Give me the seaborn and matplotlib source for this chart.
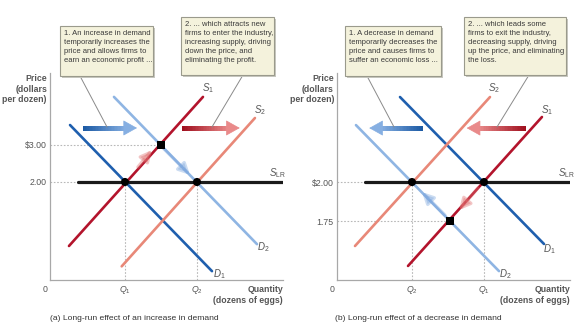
import numpy as np
import pandas as pd
import matplotlib
matplotlib.use("Agg")
import matplotlib.pyplot as plt
import seaborn as sns
from matplotlib.collections import LineCollection
from matplotlib.patches import Rectangle
import matplotlib.colors as mcolors

# ---------------- data ----------------
# panel (a): increase in demand
a_D1_q = [2.67, 21.6];  a_D1_p = [3.54, -0.41]
a_D2_q = [8.53, 27.6];  a_D2_p = [4.30, 0.32]
a_S1_q = [2.53, 20.4];  a_S1_p = [0.27, 4.30]
a_S2_q = [9.56, 27.33]; a_S2_p = [-0.28, 3.73]
a_SLR_q = [3.73, 31.07]; a_SLR_p = [2.00, 2.00]
a_eq_q = [10.0, 19.6];  a_eq_p = [2.00, 2.00]
a_sr_q = [14.8];        a_sr_p = [3.00]
a_yticks = [2.00, 3.00]; a_yticklabels = ["2.00", "\\$3.00"]
a_xticks = [10.0, 19.6]; a_xticklabels = [r"$Q_1$", r"$Q_2$"]

# panel (b): decrease in demand
b_D1_q = [8.4, 27.6];   b_D1_p = [2.545, 1.603]
b_D2_q = [2.53, 21.6];  b_D2_p = [2.365, 1.429]
b_S1_q = [9.47, 27.33]; b_S1_p = [1.462, 2.417]
b_S2_q = [2.4, 20.4];   b_S2_p = [1.59, 2.545]
b_SLR_q = [3.73, 31.07]; b_SLR_p = [2.00, 2.00]
b_eq_q = [10.0, 19.6];  b_eq_p = [2.00, 2.00]
b_sr_q = [15.07];       b_sr_p = [1.75]
b_yticks = [1.75, 2.00]; b_yticklabels = ["1.75", "\\$2.00"]
b_xticks = [10.0, 19.6]; b_xticklabels = [r"$Q_2$", r"$Q_1$"]

a_xlim = (0, 31.07); a_ylim = (-0.649, 4.946)
b_xlim = (0, 31.07); b_ylim = (1.372, 2.699)

# ---------------- style ----------------
sns.set_theme(style="white")
plt.rcParams["font.family"] = ["Liberation Sans", "DejaVu Sans"]
plt.rcParams["mathtext.fontset"] = "custom"
plt.rcParams["mathtext.it"] = "Liberation Sans:italic"
plt.rcParams["mathtext.rm"] = "Liberation Sans"

C_D1 = "#1f5fae"
C_D2 = "#8fb5e3"
C_S1 = "#b3142c"
C_S2 = "#e88878"
C_SLR = "#1a1a1a"
C_TXT = "#555555"
C_GRID = "#b8b8b8"

W, H = 584, 334
fig = plt.figure(figsize=(W / 100, H / 100), dpi=100)

def fx(px):
    return px / W

def fy(py):
    return 1 - py / H

axA = fig.add_axes([fx(50), fy(280), fx(233), 207 / H])
axB = fig.add_axes([fx(337), fy(280), fx(233), 207 / H])


def curve(ax, q, p, color, lw=1.9):
    df = pd.DataFrame({"Q": q, "P": p})
    sns.lineplot(data=df, x="Q", y="P", ax=ax, color=color, linewidth=lw,
                 sort=False, estimator=None, legend=False)


def grad_arrow(ax, x0, x1, y, c0, c1, head_len):
    n = 30
    sgn = 1 if x1 > x0 else -1
    xb = x1 - sgn * head_len
    xs = np.linspace(x0, xb, n + 1)
    segs = [[(xs[i], y), (xs[min(i + 2, n)], y)] for i in range(n)]
    cmap = mcolors.LinearSegmentedColormap.from_list("g", [c0, c1])
    cols = [cmap(i / (n - 1)) for i in range(n)]
    lc = LineCollection(segs, colors=cols, linewidths=3.6, capstyle="butt",
                        antialiaseds=False, zorder=4)
    ax.add_collection(lc)
    ax.annotate("", xy=(x1, y), xytext=(xb, y),
                arrowprops=dict(arrowstyle="-|>,head_length=0.75,head_width=0.42",
                                color=c1, lw=0.5, shrinkA=0, shrinkB=0), zorder=5)


def faint_arrow(ax, xy0, xy1, color):
    ax.annotate("", xy=xy1, xytext=xy0,
                arrowprops=dict(arrowstyle="-|>,head_length=0.55,head_width=0.28",
                                color=color, lw=2.4, alpha=0.4, shrinkA=0, shrinkB=0),
                zorder=2)


def setup(ax, xlim, ylim, xt, xtl, yt, ytl):
    ax.set_xlim(*xlim)
    ax.set_ylim(*ylim)
    for s in ["top", "right"]:
        ax.spines[s].set_visible(False)
    for s in ["left", "bottom"]:
        ax.spines[s].set_color("#a8a8a8")
        ax.spines[s].set_linewidth(0.9)
    ax.set_xticks(xt)
    ax.set_xticklabels(xtl)
    ax.set_yticks(yt)
    ax.set_yticklabels(ytl)
    ax.tick_params(length=0, labelsize=6.3, colors=C_TXT, pad=3)
    ax.tick_params(axis="y", pad=2.5)
    ax.set_xlabel("")
    ax.set_ylabel("")
    ax.patch.set_alpha(0)


# ---------------- panel (a) ----------------
ax = axA
ax.plot([0, a_sr_q[0]], [a_sr_p[0]] * 2, ls=(0, (1.5, 1.5)), color=C_GRID, lw=0.8, zorder=1)
ax.plot([0, a_SLR_q[0]], [a_eq_p[0]] * 2, ls=(0, (1.5, 1.5)), color=C_GRID, lw=0.8, zorder=1)
for q, p in zip(a_eq_q, a_eq_p):
    ax.plot([q, q], [a_ylim[0], p], ls=(0, (1.5, 1.5)), color=C_GRID, lw=0.8, zorder=1)
curve(ax, a_SLR_q, a_SLR_p, C_SLR, lw=2.3)
curve(ax, a_D1_q, a_D1_p, C_D1)
curve(ax, a_D2_q, a_D2_p, C_D2)
curve(ax, a_S2_q, a_S2_p, C_S2)
curve(ax, a_S1_q, a_S1_p, C_S1)
faint_arrow(ax, (15.07, 2.92), (18.67, 2.19), "#7fa8de")
faint_arrow(ax, (11.73, 2.405), (13.6, 2.865), "#e07070")
sns.scatterplot(x=a_eq_q, y=a_eq_p, ax=ax, color="black", s=34, marker="o", edgecolor="none", zorder=6)
sns.scatterplot(x=a_sr_q, y=a_sr_p, ax=ax, color="black", s=28, marker="s", edgecolor="none", zorder=6)
grad_arrow(ax, 4.4, 11.6, 3.46, "#1c5aa4", "#86afe2", 1.35)
grad_arrow(ax, 17.6, 25.3, 3.46, "#a0101f", "#e98a8a", 1.35)
setup(ax, a_xlim, a_ylim, a_xticks, a_xticklabels, a_yticks, a_yticklabels)

# ---------------- panel (b) ----------------
ax = axB
ax.plot([0, b_sr_q[0]], [b_sr_p[0]] * 2, ls=(0, (1.5, 1.5)), color=C_GRID, lw=0.8, zorder=1)
ax.plot([0, b_SLR_q[0]], [b_eq_p[0]] * 2, ls=(0, (1.5, 1.5)), color=C_GRID, lw=0.8, zorder=1)
for q, p in zip(b_eq_q, b_eq_p):
    ax.plot([q, q], [b_ylim[0], p], ls=(0, (1.5, 1.5)), color=C_GRID, lw=0.8, zorder=1)
curve(ax, b_SLR_q, b_SLR_p, C_SLR, lw=2.3)
curve(ax, b_D1_q, b_D1_p, C_D1)
curve(ax, b_D2_q, b_D2_p, C_D2)
curve(ax, b_S2_q, b_S2_p, C_S2)
curve(ax, b_S1_q, b_S1_p, C_S1)
faint_arrow(ax, (14.4, 1.788), (11.33, 1.936), "#7fa8de")
faint_arrow(ax, (18.8, 1.962), (16.27, 1.82), "#e07070")
sns.scatterplot(x=b_eq_q, y=b_eq_p, ax=ax, color="black", s=34, marker="o", edgecolor="none", zorder=6)
sns.scatterplot(x=b_sr_q, y=b_sr_p, ax=ax, color="black", s=28, marker="s", edgecolor="none", zorder=6)
grad_arrow(ax, 11.3, 4.3, 2.346, "#1c5aa4", "#86afe2", 1.35)
grad_arrow(ax, 25.1, 17.3, 2.346, "#a0101f", "#e98a8a", 1.35)
setup(ax, b_xlim, b_ylim, b_xticks, b_xticklabels, b_yticks, b_yticklabels)

# ---------------- text ----------------
def ftext(px, py, s, **kw):
    kw.setdefault("color", C_TXT)
    kw.setdefault("fontsize", 6.3)
    fig.text(fx(px), fy(py), s, **kw)

for off in (0, 287):
    ftext(47 + off, 74, "Price\n(dollars\nper dozen)", ha="right", va="top",
          fontweight="bold", linespacing=1.25, fontsize=6.3)
    ftext(283 + off, 285, "Quantity\n(dozens of eggs)", ha="right", va="top",
          fontweight="bold", linespacing=1.3, fontsize=6.3)
    ftext(45 + off, 290, "0", ha="center", va="center")

ftext(50, 318, "(a) Long-run effect of an increase in demand", ha="left", va="center", color="#333333", fontsize=6.1)
ftext(335, 318, "(b) Long-run effect of a decrease in demand", ha="left", va="center", color="#333333", fontsize=6.1)

ftext(208, 88, r"$S_1$", ha="center", va="center", fontsize=7)
ftext(260, 110, r"$S_2$", ha="center", va="center", fontsize=7)
ftext(219, 274, r"$D_1$", ha="center", va="center", fontsize=7)
ftext(263, 247, r"$D_2$", ha="center", va="center", fontsize=7)
ftext(277, 173, r"$S_{\mathrm{LR}}$", ha="center", va="center", fontsize=7)

ftext(494, 88, r"$S_2$", ha="center", va="center", fontsize=7)
ftext(547, 110, r"$S_1$", ha="center", va="center", fontsize=7)
ftext(549, 249, r"$D_1$", ha="center", va="center", fontsize=7)
ftext(505, 274, r"$D_2$", ha="center", va="center", fontsize=7)
ftext(566, 173, r"$S_{\mathrm{LR}}$", ha="center", va="center", fontsize=7)

# callout boxes
boxes = [
    (60, 26, 93, 50, "1. An increase in demand\ntemporarily increases the\nprice and allows firms to\nearn an economic profit ...", (80, 107)),
    (181, 17, 93, 58, "2. ... which attracts new\nfirms to enter the industry,\nincreasing supply, driving\ndown the price, and\neliminating the profit.", (243, 212)),
    (345, 26, 96, 50, "1. A decrease in demand\ntemporarily decreases the\nprice and causes firms to\nsuffer an economic loss ...", (367, 394)),
    (464, 17, 102, 58, "2. ... which leads some\nfirms to exit the industry,\ndecreasing supply, driving\nup the price, and eliminating\nthe loss.", (529, 497)),
]
for (bx, by, bw, bh, txt, (lx0, lx1)) in boxes:
    shadow = Rectangle((fx(bx + 2), fy(by + bh + 2)), fx(bw), bh / H,
                       transform=fig.transFigure, facecolor="#c8c8c0",
                       edgecolor="none", zorder=8)
    box = Rectangle((fx(bx), fy(by + bh)), fx(bw), bh / H,
                    transform=fig.transFigure, facecolor="#f4f2dc",
                    edgecolor="#9a9a8c", linewidth=0.8, zorder=9)
    fig.add_artist(shadow)
    fig.add_artist(box)
    fig.text(fx(bx + 4), fy(by + 4), txt, ha="left", va="top", fontsize=5.5,
             color="#3a3a3a", linespacing=1.42, zorder=10)
    fig.add_artist(plt.Line2D([fx(lx0), fx(lx1)], [fy(by + bh), fy(127)],
                              transform=fig.transFigure, color="#8a8a8a",
                              lw=0.7, zorder=7))

fig.savefig("out.png", dpi=100)
